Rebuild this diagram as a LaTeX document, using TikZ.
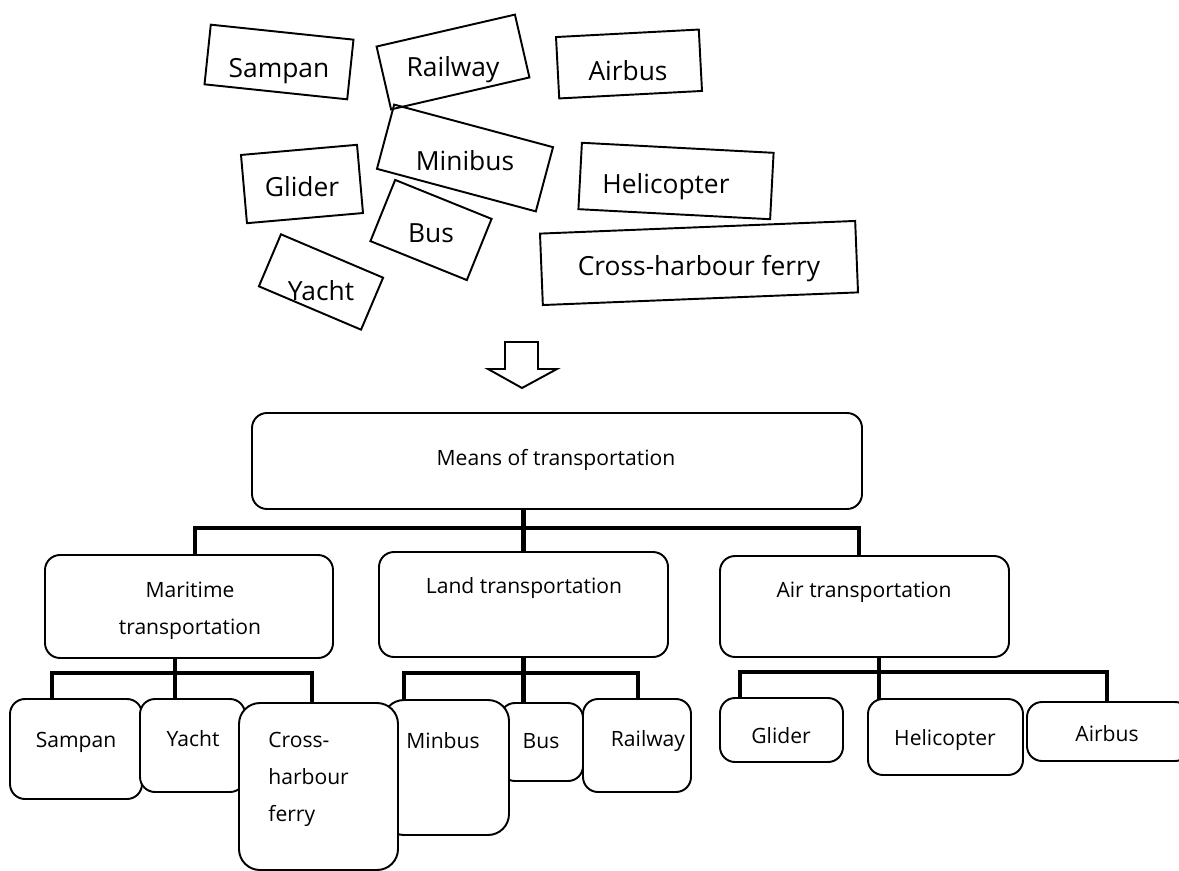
\documentclass[tikz,border=0pt]{standalone}
\usepackage{xcolor}
\usepackage{fontspec}
\setmainfont{Open Sans}
\usepackage{tikz}
\usetikzlibrary{fit}
\usetikzlibrary{positioning}

\tikzset{
	card/.style={draw, line width=1.1pt, inner sep=0pt, outer sep=0pt},
	word/.style={anchor=base, inner sep=0pt, font=\fontsize{15}{18}\selectfont},
	box/.style={draw, fill=white, line width=1.1pt, rounded corners=0.3cm, inner sep=0pt, outer sep=0pt},
	boxtext/.style={anchor=base, inner sep=0pt, font=\fontsize{12}{20.8}\selectfont},
	link/.style={line width=2.8pt}
}

\begin{document}
\begin{tikzpicture}[x=0.02cm, y=0.02cm]
			\useasboundingbox (0,0) rectangle (1179,-871);
			\node[card, rotate=-6, minimum width=2.87cm, minimum height=1.2cm] at (279,-62) (cSampan) {};
			\node[card, rotate=13, minimum width=2.84cm, minimum height=1.29cm] at (453,-62) (cRailway) {};
			\node[card, rotate=3, minimum width=2.86cm, minimum height=1.23cm] at (629,-64) (cAirbus) {};
			\node[card, rotate=-15, minimum width=3.29cm, minimum height=1.33cm] at (465,-158) (cMinibus) {};
			\node[card, rotate=5, minimum width=2.33cm, minimum height=1.37cm] at (302,-184) (cGlider) {};
			\node[card, rotate=-3, minimum width=3.84cm, minimum height=1.33cm] at (676,-181) (cHelicopter) {};
			\node[card, rotate=-22, minimum width=2.08cm, minimum height=1.32cm] at (431,-230) (cBus) {};
			\node[card, rotate=-23, minimum width=2.22cm, minimum height=1.13cm] at (321,-282) (cYacht) {};
			\node[card, rotate=2.3, minimum width=6.31cm, minimum height=1.43cm] at (699,-263) (cFerry) {};
			\node[word] at (279,-78) (tSampan) {Sampan};
			\node[word] at (453,-77) (tRailway) {Railway};
			\node[word] at (628,-81) (tAirbus) {Airbus};
			\node[word] at (465,-171) (tMinibus) {Minibus};
			\node[word] at (302,-197) (tGlider) {Glider};
			\node[word] at (666,-194) (tHelicopter) {Helicopter};
			\node[word] at (431,-243) (tBus) {Bus};
			\node[word] at (321,-300) (tYacht) {Yacht};
			\node[word] at (699,-276) (tFerry) {Cross-harbour ferry};
			\draw[line width=1.1pt] (505,-342) -- (538,-342) -- (538,-369) -- (557,-369) -- (522,-388) -- (488,-369) -- (505,-369) -- cycle;
			\node[box, fit={(252,-413) (862,-509)}] (root) {};
			\node[box, fit={(45,-555) (333,-658)}] (mar) {};
			\node[box, fit={(379,-552) (668,-657)}] (land) {};
			\node[box, fit={(720,-556) (1009,-657)}] (air) {};
			\node[box, fit={(10,-699) (142,-799)}] (sampan) {};
			\node[box, fit={(140,-699) (245,-792)}] (yacht) {};
			\node[box, fit={(500,-703) (583,-781)}] (bus) {};
			\node[box, fit={(583,-699) (691,-792)}] (rail) {};
			\node[box, rounded corners=0.42cm, fit={(383,-700) (509,-835)}] (minbus) {};
			\node[box, rounded corners=0.42cm, fit={(239,-703) (398,-870)}] (cross) {};
			\node[box, fit={(720,-698) (843,-762)}] (glider) {};
			\node[box, fit={(868,-699) (1023,-775)}] (heli) {};
			\node[box, fit={(1027,-702) (1190,-761)}] (airbus) {};
			\node[boxtext] at (556,-465) (tRoot) {Means of transportation};
			\node[boxtext, align=center] at (190,-634) (tMar) {Maritime\\transportation};
			\node[boxtext] at (524,-593) (tLand) {Land transportation};
			\node[boxtext] at (864,-597) (tAir) {Air transportation};
			\node[boxtext] at (76,-747) (tSampan2) {Sampan};
			\node[boxtext] at (193,-746) (tYacht2) {Yacht};
			\node[boxtext, anchor=base west, align=left] at (268,-821) (tCross) {Cross-\\harbour\\ferry};
			\node[boxtext] at (443,-748) (tMinbus) {Minbus};
			\node[boxtext] at (541,-748) (tBus2) {Bus};
			\node[boxtext] at (648,-746) (tRail) {Railway};
			\node[boxtext] at (781,-743) (tGlider2) {Glider};
			\node[boxtext] at (945,-745) (tHeli) {Helicopter};
			\node[boxtext] at (1107,-741) (tAirbus2) {Airbus};
			\coordinate (rootbar) at (523,-528);
			\coordinate (marbar) at (175,-673);
			\coordinate (landbar) at (523,-673);
			\coordinate (airbar) at (879,-672);
			\draw[link] (land.north) -- (root.south -| land.north);
			\draw[link] (mar.north -| 195,0) |- (rootbar) -| (air.north -| 859,0);
			\draw[link] (mar.south -| marbar) -- (yacht.north -| marbar);
			\draw[link] (sampan.north -| 52,0) |- (marbar) -| (cross.north -| 312,0);
			\draw[link] (land.south) -- (bus.north -| land.south);
			\draw[link] (minbus.north -| 404,0) |- (landbar) -| (rail.north -| 638,0);
			\draw[link] (air.south -| airbar) -- (heli.north -| airbar);
			\draw[link] (glider.north -| 740,0) |- (airbar) -| (airbus.north -| 1107,0);
		\end{tikzpicture}
\end{document}
